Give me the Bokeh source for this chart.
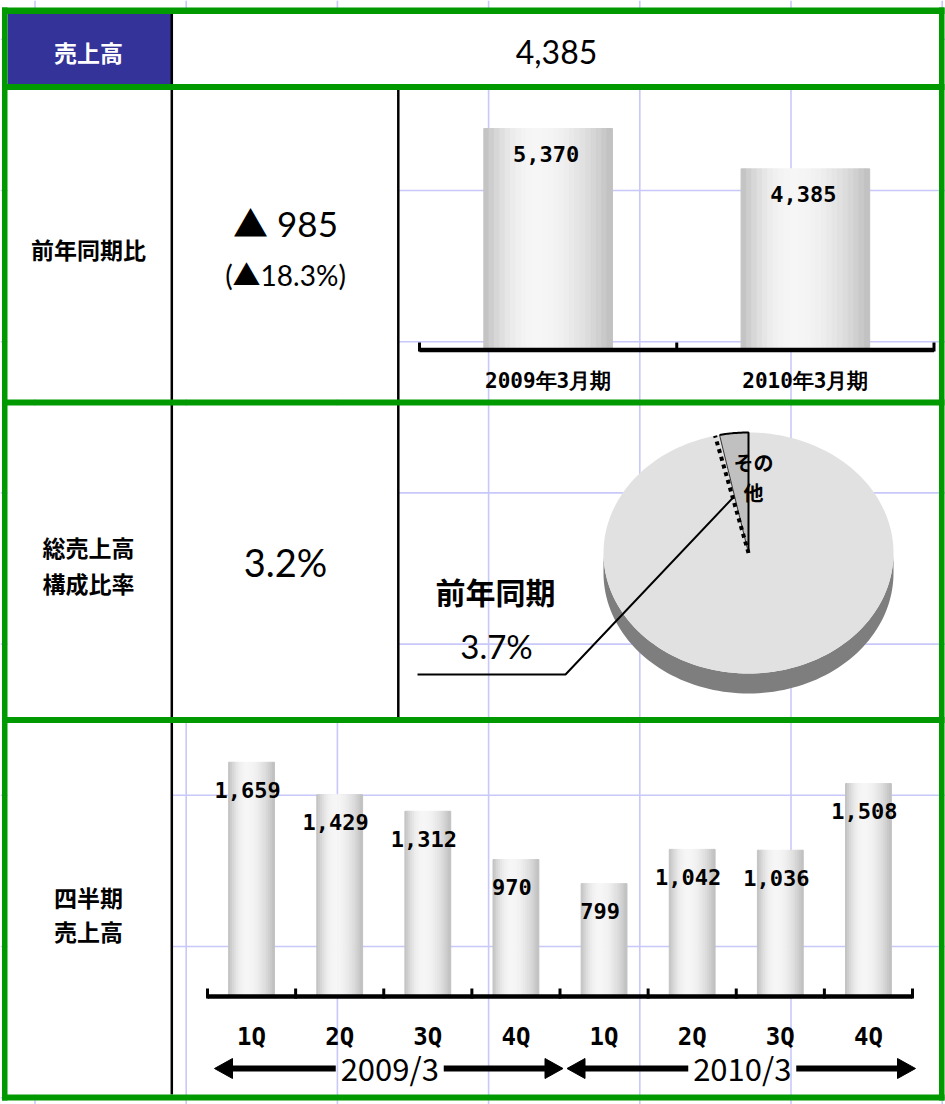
import math
from bokeh.plotting import figure
from bokeh.models import Range1d
from bokeh.core.properties import value
from bokeh.embed import file_html
from bokeh.resources import INLINE

# ---------------- data ----------------
row_labels = ["売上高", "前年同期比", "総売上高\n構成比率", "四半期\n売上高"]
sales_total = "4,385"
yoy_change = "▲ 985"
yoy_change_pct = "(▲18.3%)"
share_current = "3.2%"
share_prior_label = "前年同期"
share_prior = "3.7%"

annual_categories = ["2009年3月期", "2010年3月期"]
annual_sales = [5370, 4385]

pie_other_label = "その\n他"
pie_other_share = 3.2   # percent of total sales, current year
pie_prior_share = 3.7   # percent of total sales, previous year

quarter_labels = ["1Q", "2Q", "3Q", "4Q", "1Q", "2Q", "3Q", "4Q"]
quarter_sales = [1659, 1429, 1312, 970, 799, 1042, 1036, 1508]
fiscal_years = ["2009/3", "2010/3"]

# ---------------- layout ----------------
FX0, FX1, FY0, FY1 = 0, 945, 0, 1104
GREEN = "#009900"
JP = value("Noto Sans CJK JP")
NUM = value("Lato, 'Noto Sans CJK JP'")
MONO = value("DejaVu Sans Mono")

p = figure(width=FX1 - FX0, height=FY1 - FY0,
           x_range=Range1d(FX0, FX1), y_range=Range1d(FY1, FY0),
           output_backend="svg", toolbar_location=None,
           x_axis_type=None, y_axis_type=None, min_border=0,
           outline_line_color=None, background_fill_color="white",
           border_fill_color="white")
p.grid.visible = False


def span_range(px_a, val_a, px_b, val_b, px_lo, px_hi):
    k = (val_b - val_a) / (px_b - px_a)
    return Range1d(start=val_a + (px_lo - px_a) * k, end=val_a + (px_hi - px_a) * k)


# annual chart scales
ANN_LEFT, ANN_STEP, ANN_BASE, ANN_K = 419.0, 257.25, 348.0, 0.04097
# quarterly chart scales
Q_LEFT, Q_STEP, Q_BASE, Q_K = 207.0, 88.125, 996.0, 0.1412

p.extra_x_ranges = {
    "annx": span_range(ANN_LEFT + 0.5 * ANN_STEP, 0, ANN_LEFT + 1.5 * ANN_STEP, 1, FX0, FX1),
    "qx": span_range(Q_LEFT + 0.5 * Q_STEP, 0, Q_LEFT + 1.5 * Q_STEP, 1, FX0, FX1),
}
p.extra_y_ranges = {
    "anny": span_range(ANN_BASE, 0, ANN_BASE - 1000 * ANN_K, 1000, FY1, FY0),
    "qy": span_range(Q_BASE, 0, Q_BASE - 1000 * Q_K, 1000, FY1, FY0),
}

# background spreadsheet grid
gx = [34.5 + 151.2 * k for k in range(7)]
gy = [38.8 + 151.2 * k for k in range(8)]
p.segment(x0=gx, y0=[FY0] * len(gx), x1=gx, y1=[FY1] * len(gx), line_color="#c8c8fa", line_width=1.6)
p.segment(x0=[FX0] * len(gy), y0=gy, x1=[FX1] * len(gy), y1=gy, line_color="#c8c8fa", line_width=1.6)

# opaque (text) cells
p.quad(left=[7, 7, 7, 7], right=[939, 398, 398, 172],
       top=[13, 89, 405, 722], bottom=[84, 399, 717, 1094],
       fill_color="white", line_color=None)
# header cell
p.quad(left=[7], right=[171], top=[13], bottom=[84], fill_color="#333399", line_color=None)


def cylinder(xs, tops, width, xr, yr, n=24):
    for j in range(n):
        t = (j + 0.5) / n
        d = (t - 0.4) / 0.4 if t < 0.4 else (t - 0.4) / 0.6
        b = int(round(190 + 56 * (1 - d * d)))
        col = "#{0:02x}{0:02x}{0:02x}".format(b)
        p.vbar(x=[x + (t - 0.5) * width for x in xs], width=width / n, top=tops, bottom=0,
               fill_color=col, line_color=col, line_width=1,
               x_range_name=xr, y_range_name=yr)


# ---- annual bars ----
ann_idx = list(range(len(annual_sales)))
cylinder(ann_idx, annual_sales, 0.5, "annx", "anny")
p.segment(x0=[-0.5], y0=[349.5], x1=[len(annual_sales) - 0.5], y1=[349.5], x_range_name="annx",
          line_color="black", line_width=4.5)
bx = [i - 0.5 for i in range(len(annual_sales) + 1)]
p.segment(x0=bx, y0=[342] * len(bx), x1=bx, y1=[351] * len(bx), x_range_name="annx",
          line_color="black", line_width=3)
p.text(x=ann_idx, y=[v - 25.5 / ANN_K for v in annual_sales], text=[f"{v:,}" for v in annual_sales],
       x_range_name="annx", y_range_name="anny", x_offset=-2,
       text_font=MONO, text_font_style="bold", text_font_size="22px",
       text_align="center", text_baseline="middle", text_color="black")
p.text(x=ann_idx, y=[380] * len(ann_idx), text=annual_categories, x_range_name="annx",
       text_font=MONO, text_font_style="bold", text_font_size="21px",
       text_align="center", text_baseline="middle", text_color="black")

# ---- quarterly bars ----
q_idx = list(range(len(quarter_sales)))
cylinder(q_idx, quarter_sales, 0.52, "qx", "qy")
p.segment(x0=[-0.5], y0=[996], x1=[len(quarter_sales) - 0.5], y1=[996], x_range_name="qx",
          line_color="black", line_width=4.5)
qb = [i - 0.5 for i in range(len(quarter_sales) + 1)]
p.segment(x0=qb, y0=[988] * len(qb), x1=qb, y1=[998] * len(qb), x_range_name="qx",
          line_color="black", line_width=3)
p.text(x=q_idx, y=[v - 27.5 / Q_K for v in quarter_sales], text=[f"{v:,}" for v in quarter_sales],
       x_range_name="qx", y_range_name="qy", x_offset=-4,
       text_font=MONO, text_font_style="bold", text_font_size="22px",
       text_align="center", text_baseline="middle", text_color="black")
p.text(x=q_idx, y=[1036.5] * len(q_idx), text=quarter_labels, x_range_name="qx",
       text_font=MONO, text_font_style="bold", text_font_size="24px",
       text_align="center", text_baseline="middle", text_color="black")

# fiscal-year arrows
AR_Y, HEAD_L, HEAD_H, GAP = 1068, 18, 10, 54
per_year = len(quarter_sales) // len(fiscal_years)
for g, fy in enumerate(fiscal_years):
    start = Q_LEFT + per_year * g * Q_STEP
    end = Q_LEFT + per_year * (g + 1) * Q_STEP
    lt, rt = start + 7, end + 3
    mid = (start + end) / 2 + 6
    p.segment(x0=[lt + HEAD_L - 1, mid + GAP], y0=[AR_Y, AR_Y],
              x1=[mid - GAP, rt - HEAD_L + 1], y1=[AR_Y, AR_Y],
              line_color="black", line_width=6)
    p.patches(xs=[[lt, lt + HEAD_L, lt + HEAD_L], [rt, rt - HEAD_L, rt - HEAD_L]],
              ys=[[AR_Y, AR_Y - HEAD_H, AR_Y + HEAD_H], [AR_Y, AR_Y - HEAD_H, AR_Y + HEAD_H]],
              fill_color="black", line_color="black")
    p.text(x=[mid], y=[1066.5], text=[fy], text_font=JP, text_font_size="31px",
           text_align="center", text_baseline="middle", text_color="black")

# ---- 3D pie ----
PCX, PCY, PRX, PRY, PDEPTH = 748.0, 552.5, 145.0, 120.5, 20.0


def ell(phi, dy=0.0):
    a = math.radians(phi)
    return PCX + PRX * math.sin(a), PCY - PRY * math.cos(a) + dy


def arc(a0, a1, n=90, dy=0.0):
    pts = [ell(a0 + (a1 - a0) * i / n, dy) for i in range(n + 1)]
    return [q[0] for q in pts], [q[1] for q in pts]


sx1, sy1 = arc(90, 270)
sx2, sy2 = arc(270, 90, dy=PDEPTH)
p.patch(sx1 + sx2, sy1 + sy2, fill_color="#7e7e7e", line_color=None)

other_deg = pie_other_share * 3.6
prior_deg = pie_prior_share * 3.6
rx_, ry_ = arc(0, 360 - other_deg, n=180)
p.patch([PCX] + rx_, [PCY] + ry_, fill_color="#e1e1e1", line_color=None)
ox_, oy_ = arc(360 - other_deg, 360, n=20)
p.patch([PCX] + ox_, [PCY] + oy_, fill_color="#c0c0c0", line_color=None)
p.line(ox_ + [PCX], oy_ + [PCY], line_color="black", line_width=2)
p.line([PCX, ox_[0]], [PCY, oy_[0]], line_color="#333333", line_width=1)

# previous-year share (dotted)
px_, py_ = ell(360 - prior_deg)
p.line([PCX, px_], [PCY, py_], line_color="black", line_width=4, line_dash="4 4")
t = 0.47
lx, ly = PCX + t * (px_ - PCX), PCY + t * (py_ - PCY)
p.line([lx, 565, 417], [ly, 674, 674], line_color="black", line_width=2)

p.text(x=[753], y=[477], text=[pie_other_label], text_font=JP, text_font_style="bold",
       text_font_size="20px", text_line_height=1.04, text_align="center", text_baseline="middle")
p.text(x=[495], y=[590], text=[share_prior_label], text_font=JP, text_font_style="bold",
       text_font_size="30px", text_align="center", text_baseline="middle")
p.text(x=[496], y=[645], text=[share_prior], text_font=NUM, text_font_size="33px",
       text_align="center", text_baseline="middle")

# ---- table borders ----
p.segment(x0=[171.3, 397.8], y0=[13, 89], x1=[171.3, 397.8], y1=[1094, 717],
          line_color="black", line_width=2.5)
p.quad(left=[1.5, 1.5, 1.5, 1.5, 1.5, 1.5, 938.5],
       right=[944, 944, 944, 944, 944, 7, 944],
       top=[7, 83.5, 399, 716.5, 1094, 7, 7],
       bottom=[13.5, 89.5, 405, 722.5, 1100, 1100, 1100],
       fill_color=GREEN, line_color=None)

# ---- cell texts ----
p.text(x=[88], y=[51], text=[row_labels[0]], text_font=JP, text_font_style="bold",
       text_font_size="23px", text_color="white", text_align="center", text_baseline="middle")
p.text(x=[556], y=[51], text=[sales_total], text_font=NUM, text_font_size="32px",
       text_align="center", text_baseline="middle")
p.text(x=[88], y=[248], text=[row_labels[1]], text_font=JP, text_font_style="bold",
       text_font_size="23px", text_align="center", text_baseline="middle")
p.text(x=[285], y=[222.5], text=[yoy_change], text_font=NUM, text_font_size="35px",
       text_align="center", text_baseline="middle")
p.text(x=[285], y=[274], text=[yoy_change_pct], text_font=NUM, text_font_size="28px",
       text_align="center", text_baseline="middle")
p.text(x=[88], y=[564.5], text=[row_labels[2]], text_font=JP, text_font_style="bold",
       text_font_size="23px", text_line_height=1.05, text_align="center", text_baseline="middle")
p.text(x=[285], y=[561.5], text=[share_current], text_font=NUM, text_font_size="38px",
       text_align="center", text_baseline="middle")
p.text(x=[88], y=[913.5], text=[row_labels[3]], text_font=JP, text_font_style="bold",
       text_font_size="23px", text_line_height=0.99, text_align="center", text_baseline="middle")

open("out.html", "w").write(file_html(p, INLINE))
